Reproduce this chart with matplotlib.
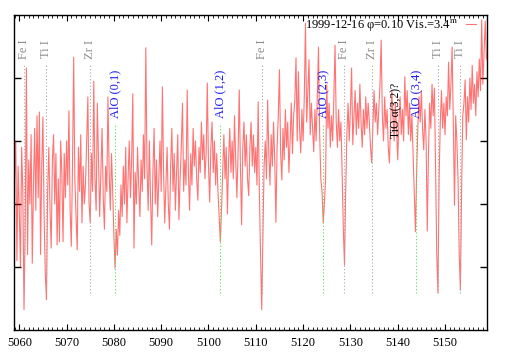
import matplotlib
matplotlib.use("Agg")
import matplotlib.pyplot as plt
import matplotlib.transforms as mtransforms
import numpy as np

plt.rcParams["font.family"] = ["Liberation Serif", "DejaVu Serif"]
plt.rcParams["mathtext.fontset"] = "stix"

# spectrum: flux sampled every 0.25 A starting at 5059.0 A
wave_start = 5059.0
wave_step = 0.25
flux = [
    2.4, 3.0, 1.1, 2.6, 1.9, 1.0, 2.9, 2.2, 0.32, 1.6, 4.16, 1.2, 2.7, 2.0, 3.1, 1.06, 2.3, 3.2, 1.9, 3.4,
    2.1, 3.46, 1.2, 2.6, 3.38, 1.8, 0.9, 0.48, 2.2, 2.9, 1.9, 1.3, 2.7, 3.1, 2.0, 2.8, 1.35, 2.4, 1.4, 3.0,
    2.5, 1.4, 2.8, 2.1, 3.0, 2.3, 3.48, 1.9, 1.33, 2.6, 4.33, 2.4, 1.8, 1.27, 2.9, 2.2, 3.1, 1.7, 2.6, 2.0,
    2.3, 3.0, 3.7, 2.0, 1.7, 2.8, 2.2, 3.95, 2.4, 1.9, 3.6, 2.7, 1.8, 2.5, 3.2, 2.1, 1.6, 2.6, 2.2, 3.7,
    2.5, 1.9, 2.8, 2.2, 1.5, 0.98, 1.6, 1.19, 1.9, 1.5, 2.3, 1.8, 2.6, 2.0, 2.9, 1.7, 2.4, 3.0, 2.1, 2.7,
    3.75, 1.3, 2.5, 2.0, 2.9, 2.3, 1.8, 2.7, 2.2, 3.1, 2.4, 4.48, 2.6, 1.9, 3.0, 2.1, 1.35, 2.5, 3.2, 2.0,
    2.7, 1.8, 2.4, 3.0, 2.2, 3.86, 2.5, 1.7, 2.3, 2.9, 2.0, 1.6, 2.6, 3.2, 2.2, 2.8, 1.9, 2.5, 3.1, 1.75,
    2.4, 2.9, 3.6, 2.2, 2.7, 2.3, 3.81, 2.5, 1.9, 2.8, 2.3, 3.2, 2.6, 3.0, 2.4, 2.06, 2.9, 2.5, 3.3, 2.7,
    3.1, 2.4, 2.8, 3.92, 2.6, 2.03, 2.9, 3.3, 2.5, 3.0, 2.3, 2.8, 2.2, 1.8, 1.4, 1.9, 2.5, 3.1, 2.4, 2.9,
    1.84, 2.7, 3.2, 2.5, 3.0, 2.4, 3.4, 2.7, 2.1, 2.8, 3.81, 2.6, 1.67, 2.9, 3.3, 2.6, 3.1, 2.4, 2.13, 2.9,
    3.3, 2.6, 3.1, 2.5, 2.9, 2.3, 3.62, 2.2, 1.2, 0.32, 1.5, 2.6, 3.0, 2.4, 3.65, 2.8, 2.3, 3.1, 2.6, 3.3,
    2.7, 1.71, 2.9, 3.4, 4.13, 2.8, 2.38, 3.2, 2.7, 3.5, 2.9, 3.3, 2.5, 3.0, 3.6, 2.8, 3.4, 3.65, 4.32, 3.0,
    4.1, 3.2, 2.81, 3.5, 3.0, 3.7, 4.87, 3.3, 3.8, 4.29, 3.1, 3.6, 3.2, 2.83, 3.5, 3.0, 3.7, 4.49, 3.1, 2.4,
    2.2, 1.7, 2.0, 2.4, 3.89, 3.2, 3.6, 2.9, 3.4, 3.0, 3.7, 4.52, 3.3, 2.9, 3.5, 3.0, 3.3, 2.5, 1.6, 1.03,
    2.2, 3.1, 3.6, 3.0, 3.5, 4.16, 2.94, 3.4, 3.8, 3.1, 3.6, 3.2, 3.9, 3.3, 2.9, 3.5, 3.1, 3.7, 3.2, 3.6,
    3.3, 2.9, 2.65, 3.2, 3.8, 3.3, 3.6, 3.1, 3.5, 3.9, 4.6, 3.4, 3.0, 3.7, 3.2, 3.5, 2.9, 2.65, 3.3, 3.8,
    3.4, 3.0, 3.6, 3.2, 2.7, 3.3, 3.7, 3.1, 3.5, 3.0, 4.02, 3.4, 3.8, 3.1, 3.6, 3.0, 3.4, 2.8, 2.2, 1.56,
    2.5, 3.2, 3.7, 3.3, 3.8, 3.2, 2.86, 3.5, 3.0, 1.57, 2.8, 3.6, 3.2, 3.9, 3.4, 3.84, 2.6, 1.2, 0.59, 2.4,
    3.3, 3.8, 3.2, 3.6, 3.1, 3.7, 3.4, 4.25, 3.5, 3.9, 4.49, 3.3, 1.98, 3.4, 3.0, 2.4, 1.2, 0.63, 2.2, 3.4,
    3.6, 3.97, 3.02, 3.7, 3.3, 4.0, 3.5, 4.2, 3.6, 3.9, 3.4, 4.1, 3.7, 4.3, 3.8, 4.92, 3.9, 4.4, 4.9, 4.3,
]

# atomic line identifications
atom_names = ["Fe I", "Ti I", "Zr I", "Fe I", "Fe I", "Zr I", "Ti I", "Ti I"]
atom_waves = [5061.05, 5065.65, 5074.9, 5111.3, 5128.7, 5134.5, 5148.45, 5153.25]

# AlO band heads
alo_names = ["AlO (0,1)", "AlO (1,2)", "AlO (2,3)", "AlO (3,4)"]
alo_waves = [5080.25, 5102.5, 5124.3, 5143.9]

tio_name = "TiO α(3,2)?"
tio_wave = 5139.8

legend_label = "1999-12-16 φ=0.10 Vis.=3.4$^{\\mathrm{m}}$"


def draw_spectrum():
    wave = wave_start + wave_step * np.arange(len(flux))

    fig = plt.figure(figsize=(5.09, 3.56), dpi=100)
    ax = fig.add_axes([0.0281, 0.073, 0.928, 0.885])

    ax.plot(wave, flux, "-", color="#ff0000", alpha=0.55, linewidth=0.8, label=legend_label)

    trans = mtransforms.blended_transform_factory(ax.transData, ax.transAxes)
    for name, w in zip(atom_names, atom_waves):
        ax.plot([w, w], [0.117, 0.848], transform=trans, linestyle=(0, (1, 2)),
                color="#a8a8a8", linewidth=0.8, zorder=3)
        ax.text(w, 0.921, name, transform=trans, rotation=90, ha="center", va="top",
                fontsize=9, color="#8c8c8c")
    for name, w in zip(alo_names, alo_waves):
        ax.plot([w, w], [0.117, 0.651], transform=trans, linestyle=(0, (1, 2)),
                color="#50e050", linewidth=0.8, zorder=3)
        ax.text(w, 0.825, name, transform=trans, rotation=90, ha="center", va="top",
                fontsize=9, color="#1a1aee")
    ax.text(tio_wave, 0.784, tio_name, transform=trans, rotation=90, ha="center", va="top",
            fontsize=8.5, color="black")

    ax.set_xlim(5058.95, 5158.8)
    ax.set_ylim(0, 5)
    ax.set_xticks(np.arange(5060, 5151, 10))
    ax.set_xticks(np.arange(5059, 5159, 1), minor=True)
    ax.set_yticks([1, 2, 3, 4])
    ax.tick_params(axis="both", which="both", direction="in", top=True, right=True,
                   labelleft=False, labelsize=9, pad=5)
    ax.tick_params(axis="x", which="major", length=4, width=0.8)
    ax.tick_params(axis="x", which="minor", length=2, width=0.6)
    ax.tick_params(axis="y", which="major", length=5, width=1)
    for sp in ax.spines.values():
        sp.set_linewidth(1)

    ax.legend(loc="center right", bbox_to_anchor=(0.977, 0.968), frameon=False,
              markerfirst=False, handlelength=0.8, handletextpad=0.6,
              borderpad=0, borderaxespad=0, fontsize=9)

    fig.savefig("out.png", dpi=100)
    plt.close()


if __name__ == '__main__':
    draw_spectrum()
